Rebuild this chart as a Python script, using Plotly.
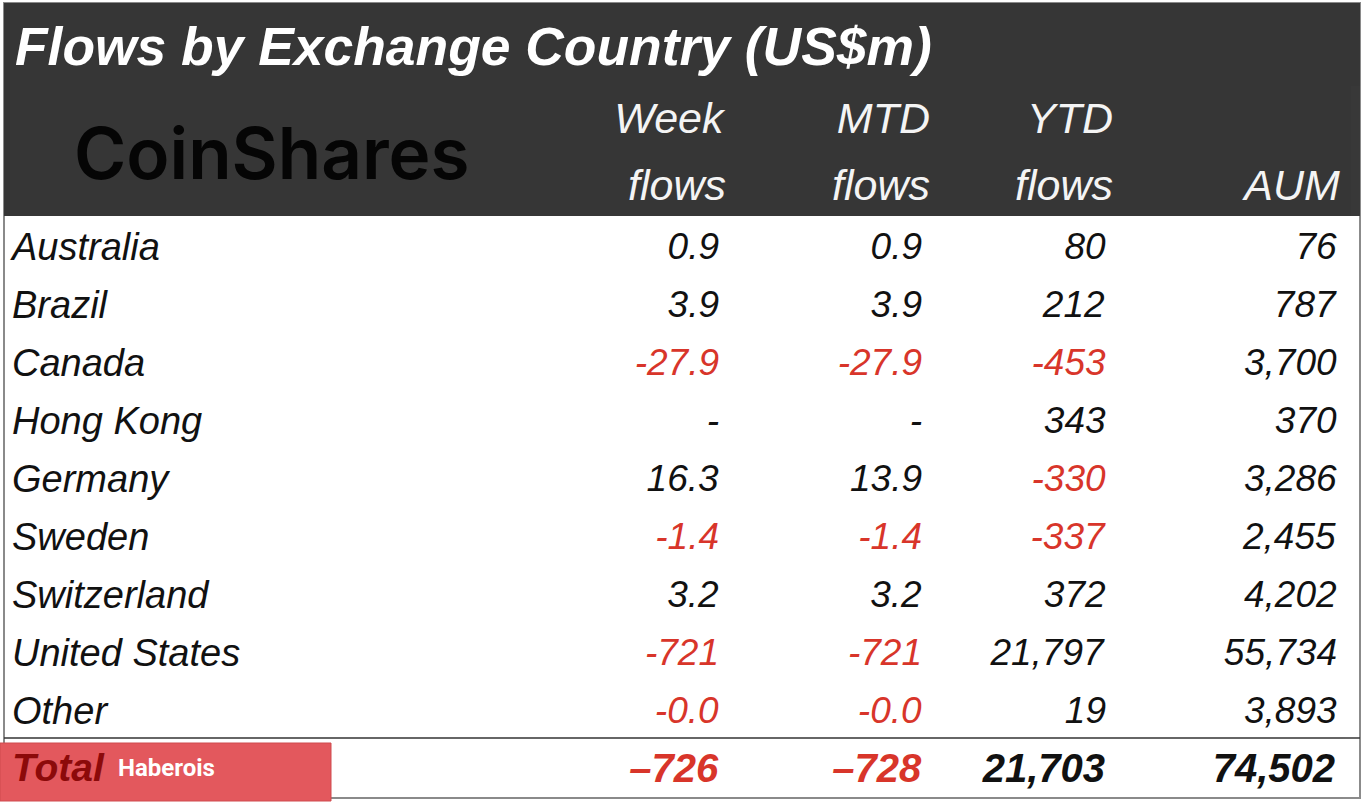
import plotly.graph_objects as go

countries = ['Australia', 'Brazil', 'Canada', 'Hong Kong', 'Germany', 'Sweden',
             'Switzerland', 'United States', 'Other']
week_flows = ['0.9', '3.9', '-27.9', '-', '16.3', '-1.4', '3.2', '-721', '-0.0']
mtd_flows = ['0.9', '3.9', '-27.9', '-', '13.9', '-1.4', '3.2', '-721', '-0.0']
ytd_flows = ['80', '212', '-453', '343', '-330', '-337', '372', '21,797', '19']
aum = ['76', '787', '3,700', '370', '3,286', '2,455', '4,202', '55,734', '3,893']

total_row = ['Total', '–726', '–728', '21,703', '74,502']

header_top = ['', 'Week', 'MTD', 'YTD', '']
header_bottom = ['', 'flows', 'flows', 'flows', 'AUM']

W = 1368
H = 802
DARK = '#363636'
RED = '#d8352a'
INK = '#111111'
FONT = 'Liberation Sans'


def py(y):
    return 1 - y / H


def colour(v):
    if v[0] in '-–' and len(v) > 1:
        return RED
    return INK


columns = [countries, week_flows, mtd_flows, ytd_flows, aum]
blank_header = dict(values=[''] * 5, height=0, line_width=0,
                    fill_color='rgba(0,0,0,0)', font=dict(size=1))
body_widths = [516, 207, 203, 184, 231]
body_align = ['left', 'right', 'right', 'right', 'right']

fig = go.Figure()

# dark header rows
fig.add_trace(go.Table(
    domain=dict(x=[4 / W, 1351 / W], y=[py(218), py(86)]),
    columnwidth=[520, 210, 204, 183, 230],
    header=blank_header,
    cells=dict(values=[['<i>' + a + '</i>', '<i>' + b + '</i>']
                       for a, b in zip(header_top, header_bottom)],
               height=67, align='right', line_width=0, fill_color='rgba(0,0,0,0)',
               font=dict(family=FONT, size=43, color='#f4f4f4')),
))

# body rows
fig.add_trace(go.Table(
    domain=dict(x=[4 / W, 1345 / W], y=[py(745), py(218)]),
    columnwidth=body_widths,
    header=blank_header,
    cells=dict(values=[['<i>' + v + '</i>' for v in c] for c in columns],
               height=58, align=body_align, line_width=0, fill_color='rgba(0,0,0,0)',
               font=dict(family=FONT, size=[38, 37, 37, 37, 37],
                         color=[[INK] * len(countries)] + [[colour(v) for v in c] for c in columns[1:]])),
))

# total row is bold and a bit larger
fig.add_trace(go.Table(
    domain=dict(x=[4 / W, 1343 / W], y=[py(801), py(738)]),
    columnwidth=[516, 207, 203, 184, 229],
    header=blank_header,
    cells=dict(values=[['<b><i>' + v + '</i></b>'] for v in total_row],
               height=58, align=body_align, line_width=0, fill_color='rgba(0,0,0,0)',
               font=dict(family=FONT, size=[39, 40, 40, 40, 40],
                         color=['#8c0a0a'] + [colour(v) for v in total_row[1:]])),
))

fig.update_layout(
    width=W,
    height=H,
    autosize=False,
    margin=dict(l=0, r=0, t=0, b=0),
    paper_bgcolor='white',
    plot_bgcolor='white',
    showlegend=False,
    title=dict(text='<b><i>Flows by Exchange Country (US$m)</i></b>',
               x=15 / W, xanchor='left', y=py(46), yanchor='middle',
               font=dict(family=FONT, size=53.4, color='white')),
    shapes=[
        dict(type='rect', xref='paper', yref='paper', layer='below',
             x0=4 / W, x1=1360 / W, y0=py(798), y1=py(3),
             line=dict(color='#8a8a8a', width=2), fillcolor='white'),
        dict(type='rect', xref='paper', yref='paper', layer='below',
             x0=4 / W, x1=1360 / W, y0=py(216), y1=py(3),
             line=dict(width=0), fillcolor=DARK),
        dict(type='line', xref='paper', yref='paper', layer='below',
             x0=4 / W, x1=1360 / W, y0=py(738), y1=py(738),
             line=dict(color='#333333', width=1.5)),
        dict(type='rect', xref='paper', yref='paper', layer='below',
             x0=0, x1=331 / W, y0=py(801), y1=py(743),
             line=dict(color='#cf4a4e', width=1), fillcolor='#e3585d'),
    ],
    annotations=[
        dict(text='CoinShares', xref='paper', yref='paper', x=272 / W, y=py(153),
             xanchor='center', yanchor='middle', showarrow=False,
             font=dict(family='Inter', size=71, weight=600, color='#050505')),
        dict(text='<b>Haberois</b>', xref='paper', yref='paper', x=166 / W, y=py(768),
             xanchor='center', yanchor='middle', showarrow=False,
             font=dict(family='Roboto', size=24, color='white')),
    ],
)

# browser default body margin would push the figure 8px in
fig.write_html("out.html", post_script="document.body.style.margin = '0';",
               config=dict(displayModeBar=False))
